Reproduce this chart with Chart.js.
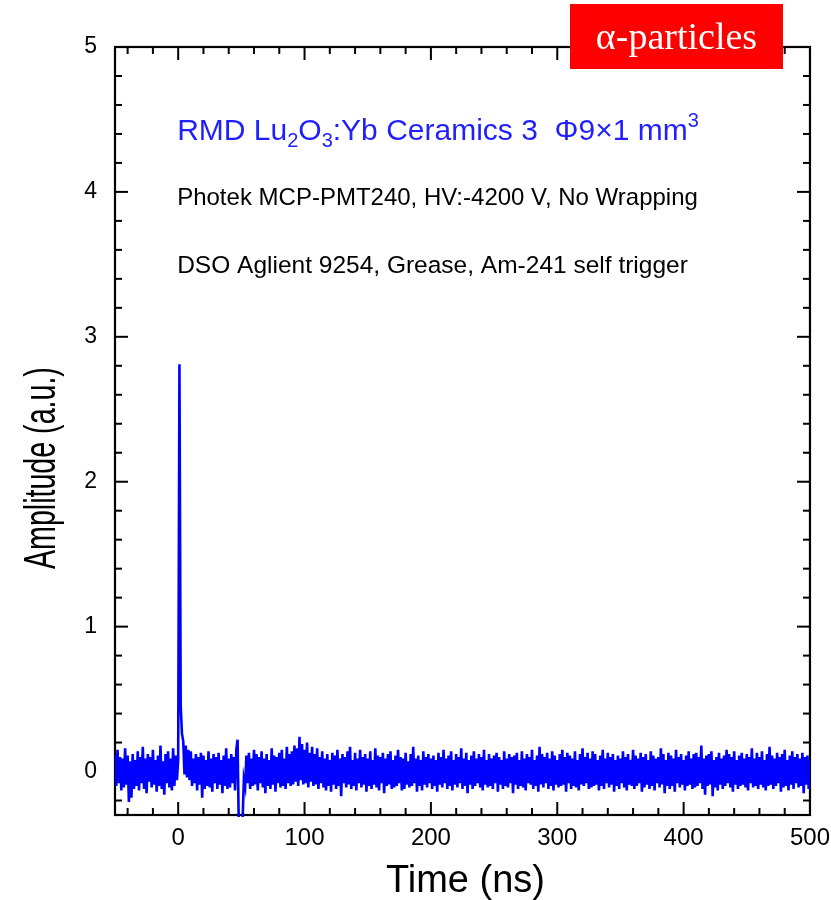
<!DOCTYPE html>
<html>
<head>
<meta charset="utf-8">
<script src="https://cdn.jsdelivr.net/npm/chart.js@4.4.1/dist/chart.umd.min.js"></script>
<style>
  html, body { margin: 0; padding: 0; background: #fff; }
  #wrap { width: 831px; height: 900px; position: relative; }
</style>
</head>
<body>
<div id="wrap"><canvas id="c" width="831" height="900"></canvas></div>
<script>
// ---- data ----
const sampleStartNs = -50;   // first sample time (ns)
const sampleStepNs = 1;
const amplitude = [
  .12,-.10,.15,-.08,.10,-.13,.09,-.11,.16,-.09,
  .11,-.21,.07,-.18,.12,-.12,.08,-.10,.14,-.13,
  .10,-.08,.17,-.12,.09,-.15,.12,-.07,.10,-.11,
  .15,-.09,.08,-.14,.11,-.10,.18,-.12,.07,-.16,
  .12,-.08,.14,-.11,.09,-.13,.16,-.10,.11,-.06,
  .08,2.81,.45,.26,.21,-.02,.18,-.04,.15,-.06,
  .14,-.10,.09,-.08,.12,-.13,.10,-.09,.13,-.18,
  .11,-.12,.08,-.10,.14,-.11,.09,-.14,.12,-.08,
  .10,-.12,.13,-.09,.08,-.15,.11,-.10,.16,-.12,
  .09,-.11,.12,-.08,.10,-.13,.15,.22,-.40,-.45,
  -.38,-.33,-.05,-.10,.11,-.08,.13,-.12,.09,-.10,
  .15,-.09,.12,-.13,.10,-.08,.14,-.11,.09,-.15,
  .12,-.10,.08,-.12,.16,-.09,.11,-.14,.10,-.08,
  .13,-.11,.15,-.10,.09,-.12,.17,-.08,.12,-.10,
  .14,-.09,.18,-.07,.16,-.10,.24,-.06,.19,-.09,
  .15,-.08,.20,-.11,.13,-.07,.17,-.10,.12,-.09,
  .16,-.12,.10,-.08,.14,-.11,.09,-.13,.12,-.10,
  .08,-.14,.13,-.09,.11,-.12,.15,-.10,.09,-.17,
  .12,-.08,.10,-.11,.14,-.09,.17,-.12,.08,-.10,
  .13,-.13,.09,-.08,.15,-.11,.10,-.09,.12,-.14,
  .09,-.10,.14,-.12,.08,-.09,.16,-.11,.11,-.13,
  .10,-.08,.13,-.15,.09,-.10,.12,-.09,.14,-.12,
  .08,-.11,.11,-.10,.15,-.08,.10,-.13,.09,-.12,
  .13,-.09,.07,-.11,.12,-.10,.17,-.08,.09,-.14,
  .11,-.10,.08,-.13,.14,-.09,.10,-.11,.12,-.08,
  .09,-.12,.11,-.10,.08,-.14,.13,-.09,.10,-.11,
  .15,-.08,.09,-.12,.11,-.10,.14,-.13,.08,-.09,
  .12,-.11,.10,-.08,.16,-.12,.09,-.10,.13,-.15,
  .08,-.09,.11,-.12,.14,-.10,.09,-.08,.12,-.11,
  .10,-.13,.15,-.09,.08,-.11,.12,-.10,.09,-.12,
  .11,-.08,.13,-.14,.10,-.09,.08,-.12,.14,-.10,
  .09,-.11,.12,-.08,.10,-.15,.11,-.09,.13,-.12,
  .08,-.10,.14,-.11,.09,-.13,.12,-.08,.10,-.09,
  .15,-.12,.08,-.10,.11,-.14,.17,-.09,.12,-.11,
  .10,-.08,.13,-.12,.09,-.10,.14,-.13,.11,-.09,
  .08,-.11,.12,-.10,.15,-.09,.10,-.14,.13,-.08,
  .11,-.12,.09,-.10,.14,-.11,.08,-.13,.12,-.09,
  .16,-.10,.10,-.08,.13,-.12,.09,-.11,.14,-.10,
  .12,-.09,.08,-.13,.11,-.10,.15,-.12,.09,-.08,
  .13,-.11,.10,-.09,.12,-.14,.08,-.10,.11,-.12,
  .09,-.08,.14,-.11,.10,-.13,.12,-.09,.08,-.10,
  .15,-.12,.11,-.10,.09,-.08,.13,-.14,.10,-.11,
  .12,-.09,.08,-.12,.14,-.10,.11,-.13,.09,-.08,
  .10,-.11,.16,-.09,.12,-.15,.08,-.10,.13,-.12,
  .11,-.10,.09,-.14,.15,-.08,.10,-.11,.12,-.09,
  .08,-.13,.11,-.10,.14,-.09,.09,-.12,.12,-.11,
  .13,-.10,.10,-.08,.18,-.12,.09,-.16,.11,-.10,
  .12,-.09,.14,-.17,.08,-.11,.10,-.13,.13,-.09,
  .09,-.12,.11,-.10,.15,-.08,.12,-.11,.10,-.14,
  .14,-.09,.08,-.12,.11,-.10,.13,-.09,.09,-.11,
  .12,-.13,.10,-.08,.16,-.11,.09,-.10,.13,-.12,
  .10,-.09,.14,-.11,.08,-.13,.12,-.10,.17,-.09,
  .11,-.12,.09,-.10,.13,-.08,.10,-.14,.12,-.11,
  .15,-.10,.08,-.13,.11,-.09,.14,-.12,.10,-.08,
  .12,-.11,.09,-.10,.13,-.15,.10,-.09,.11,-.12,
  .08
];
const xMajorTicks = [0, 100, 200, 300, 400, 500];
const xMinorTicks = [-40, -20, 20, 40, 60, 80, 120, 140, 160, 180, 220, 240, 260, 280,
                     320, 340, 360, 380, 420, 440, 460, 480];
const yMajorTicks = [0, 1, 2, 3, 4, 5];
const yMinorTicks = [-0.2, 0.2, 0.4, 0.6, 0.8, 1.2, 1.4, 1.6, 1.8, 2.2, 2.4, 2.6, 2.8,
                     3.2, 3.4, 3.6, 3.8, 4.2, 4.4, 4.6, 4.8];
const xTitle = 'Time (ns)';
const yTitle = 'Amplitude (a.u.)';
const badgeText = 'α-particles';
const infoLine1 = 'Photek MCP-PMT240, HV:-4200 V, No Wrapping';
const infoLine2 = 'DSO Aglient 9254, Grease, Am-241 self trigger';

const points = amplitude.map((v, i) => ({ x: sampleStartNs + i * sampleStepNs, y: v }));

const SANS = '"Liberation Sans", Arial, Helvetica, sans-serif';

const framePlugin = {
  id: 'frame',
  beforeDatasetsDraw(chart) {
    const { ctx, chartArea: a, scales: { x, y } } = chart;
    ctx.save();
    ctx.strokeStyle = '#000';
    ctx.lineWidth = 2;
    ctx.lineCap = 'butt';
    const tick = (x1, y1, x2, y2) => { ctx.beginPath(); ctx.moveTo(x1, y1); ctx.lineTo(x2, y2); ctx.stroke(); };
    const MAJ = 13, MIN = 7;
    xMajorTicks.forEach(v => { const px = x.getPixelForValue(v); tick(px, a.bottom, px, a.bottom - MAJ); tick(px, a.top, px, a.top + MAJ); });
    xMinorTicks.forEach(v => { const px = x.getPixelForValue(v); tick(px, a.bottom, px, a.bottom - MIN); tick(px, a.top, px, a.top + MIN); });
    yMajorTicks.forEach(v => { const py = y.getPixelForValue(v); tick(a.left, py, a.left + MAJ, py); tick(a.right, py, a.right - MAJ, py); });
    yMinorTicks.forEach(v => { const py = y.getPixelForValue(v); tick(a.left, py, a.left + MIN, py); tick(a.right, py, a.right - MIN, py); });
    ctx.lineWidth = 2.2;
    ctx.strokeRect(a.left, a.top, a.right - a.left, a.bottom - a.top);
    ctx.restore();
  },
  afterDraw(chart) {
    const { ctx, chartArea: a, scales: { x, y } } = chart;
    ctx.save();
    // axis titles
    ctx.fillStyle = '#000';
    ctx.font = '38px ' + SANS;
    ctx.textAlign = 'center';
    ctx.textBaseline = 'alphabetic';
    ctx.fillText(xTitle, (a.left + a.right) / 2 + 3, 892);

    ctx.save();
    ctx.translate(55, 569);
    ctx.rotate(-Math.PI / 2);
    ctx.scale(0.65, 1);
    ctx.font = '44px ' + SANS;
    ctx.textAlign = 'left';
    ctx.fillText(yTitle, 0, 0);
    ctx.restore();

    // annotations anchored to data coordinates
    const x0 = x.getPixelForValue(-0.8);
    // blue title with sub/superscripts
    let cx = x0;
    const by = y.getPixelForValue(4.36);
    const big = '30px ' + SANS, small = '20px ' + SANS;
    ctx.fillStyle = '#1f1fff';
    ctx.textAlign = 'left';
    const seg = (t, font, dy) => { ctx.font = font; ctx.fillText(t, cx, by + dy); cx += ctx.measureText(t).width; };
    seg('RMD Lu', big, 0);
    seg('2', small, 7);
    seg('O', big, 0);
    seg('3', small, 7);
    seg(':Yb Ceramics 3  \u03A69\u00D71 mm', big, 0);
    seg('3', small, -13);

    ctx.fillStyle = '#000';
    ctx.font = '24px ' + SANS;
    ctx.fillText(infoLine1, x0, y.getPixelForValue(3.91));
    ctx.font = '24.5px ' + SANS;
    ctx.fillText(infoLine2, x0, y.getPixelForValue(3.44));

    // red badge
    ctx.fillStyle = '#ff0000';
    ctx.fillRect(570, 4, 213, 65);
    ctx.fillStyle = '#fff';
    ctx.font = '38px "Liberation Serif", "Times New Roman", serif';
    ctx.textAlign = 'center';
    ctx.fillText(badgeText, 676.5, 49);
    ctx.restore();
  }
};

new Chart(document.getElementById('c'), {
  type: 'line',
  data: {
    datasets: [{
      data: points,
      borderColor: '#0000ff',
      borderWidth: 2.6,
      pointRadius: 0,
      tension: 0,
      fill: false,
      borderJoinStyle: 'miter',
      clip: { left: 0, top: 0, right: 0, bottom: 2 }
    }]
  },
  options: {
    responsive: false,
    animation: false,
    events: [],
    layout: { padding: { top: 47, right: 21, left: 0, bottom: 0 } },
    plugins: { legend: { display: false }, tooltip: { enabled: false } },
    scales: {
      x: {
        type: 'linear', min: -50, max: 500,
        afterBuildTicks: s => { s.ticks = xMajorTicks.map(v => ({ value: v })); },
        afterFit: s => { s.height = 85; },
        grid: { display: false }, border: { display: false },
        ticks: { color: '#000', font: { family: SANS, size: 24 }, padding: 1, maxRotation: 0, autoSkip: false }
      },
      y: {
        type: 'linear', min: -0.3, max: 5,
        afterBuildTicks: s => { s.ticks = yMajorTicks.map(v => ({ value: v })); },
        afterFit: s => { s.width = 115; },
        grid: { display: false }, border: { display: false },
        ticks: { color: '#000', font: { family: SANS, size: 23 }, padding: 10, autoSkip: false }
      }
    }
  },
  plugins: [framePlugin]
});
</script>
</body>
</html>
